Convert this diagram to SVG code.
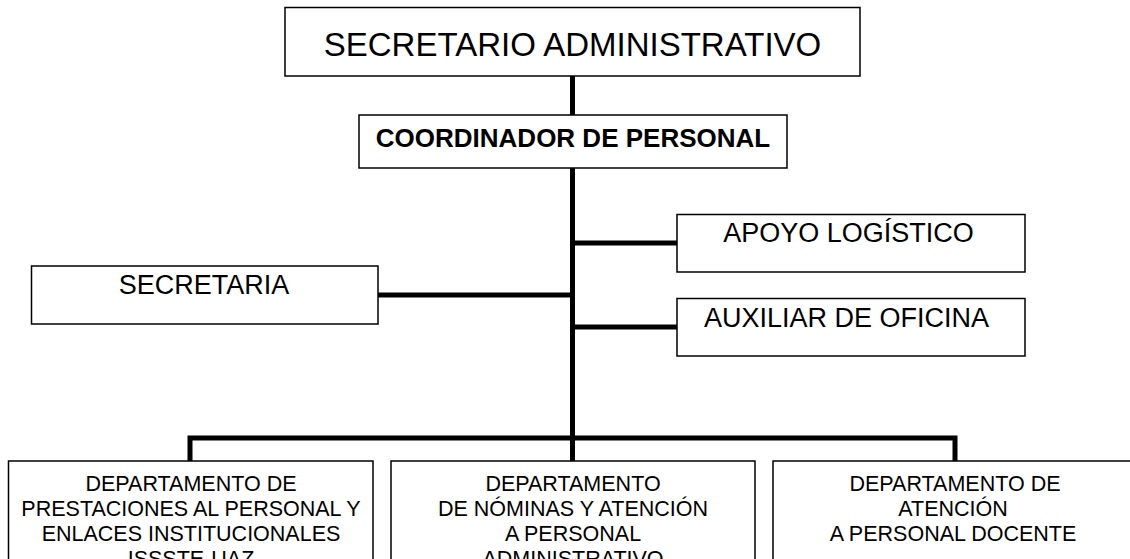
<svg xmlns="http://www.w3.org/2000/svg" width="1130" height="559" viewBox="0 0 1130 559">
<style>
.box{fill:#fff;stroke:#000;stroke-width:1.5}
.t{font-family:"Liberation Sans",Arial,sans-serif;fill:#000;text-anchor:middle}
.side{font-size:27px}
.dept{font-size:21.5px}
.conn{stroke:#000;stroke-width:5;fill:none}
</style>
<rect width="1130" height="559" fill="#fff"/>
<g id="connectors">
<line class="conn" x1="572.5" y1="76" x2="572.5" y2="440"/>
<line class="conn" x1="378" y1="295" x2="572.5" y2="295"/>
<line class="conn" x1="572.5" y1="243" x2="677" y2="243"/>
<line class="conn" x1="572.5" y1="327" x2="677" y2="327"/>
<polyline class="conn" points="190,461 190,438 955,438 955,461"/>
<line class="conn" x1="572.5" y1="438" x2="572.5" y2="461"/>
</g>
<g id="secretario">
<rect class="box" x="285" y="7.5" width="575" height="68.5"/>
<text class="t" x="572.5" y="56" font-size="33">SECRETARIO ADMINISTRATIVO</text>
</g>
<g id="coordinador">
<rect class="box" x="359" y="115" width="428" height="53"/>
<text class="t" x="573" y="147" font-size="26" font-weight="bold">COORDINADOR DE PERSONAL</text>
</g>
<g id="secretaria">
<rect class="box" x="31.5" y="266" width="346.5" height="58"/>
<text class="t side" x="204" y="293.5">SECRETARIA</text>
</g>
<g id="apoyo">
<rect class="box" x="677" y="214.5" width="348" height="57.5"/>
<text class="t side" x="848.5" y="242">APOYO LOGÍSTICO</text>
</g>
<g id="auxiliar">
<rect class="box" x="677" y="298.5" width="348" height="57.5"/>
<text class="t side" x="846.5" y="327">AUXILIAR DE OFICINA</text>
</g>
<g id="depto-prestaciones">
<rect class="box" x="8.5" y="461" width="364.5" height="120"/>
<text class="t dept"><tspan x="191" y="491">DEPARTAMENTO DE</tspan><tspan x="191" y="516">PRESTACIONES AL PERSONAL Y</tspan><tspan x="191" y="541">ENLACES INSTITUCIONALES</tspan><tspan x="191" y="566">ISSSTE-UAZ</tspan></text>
</g>
<g id="depto-nominas">
<rect class="box" x="391" y="461" width="364" height="120"/>
<text class="t dept"><tspan x="573" y="491">DEPARTAMENTO</tspan><tspan x="573" y="516">DE NÓMINAS Y ATENCIÓN</tspan><tspan x="573" y="541">A PERSONAL</tspan><tspan x="573" y="566">ADMINISTRATIVO</tspan></text>
</g>
<g id="depto-docente">
<rect class="box" x="773" y="461" width="370" height="120"/>
<text class="t dept"><tspan x="955" y="491">DEPARTAMENTO DE</tspan><tspan x="953" y="516">ATENCIÓN</tspan><tspan x="953" y="541">A PERSONAL DOCENTE</tspan></text>
</g>
</svg>
